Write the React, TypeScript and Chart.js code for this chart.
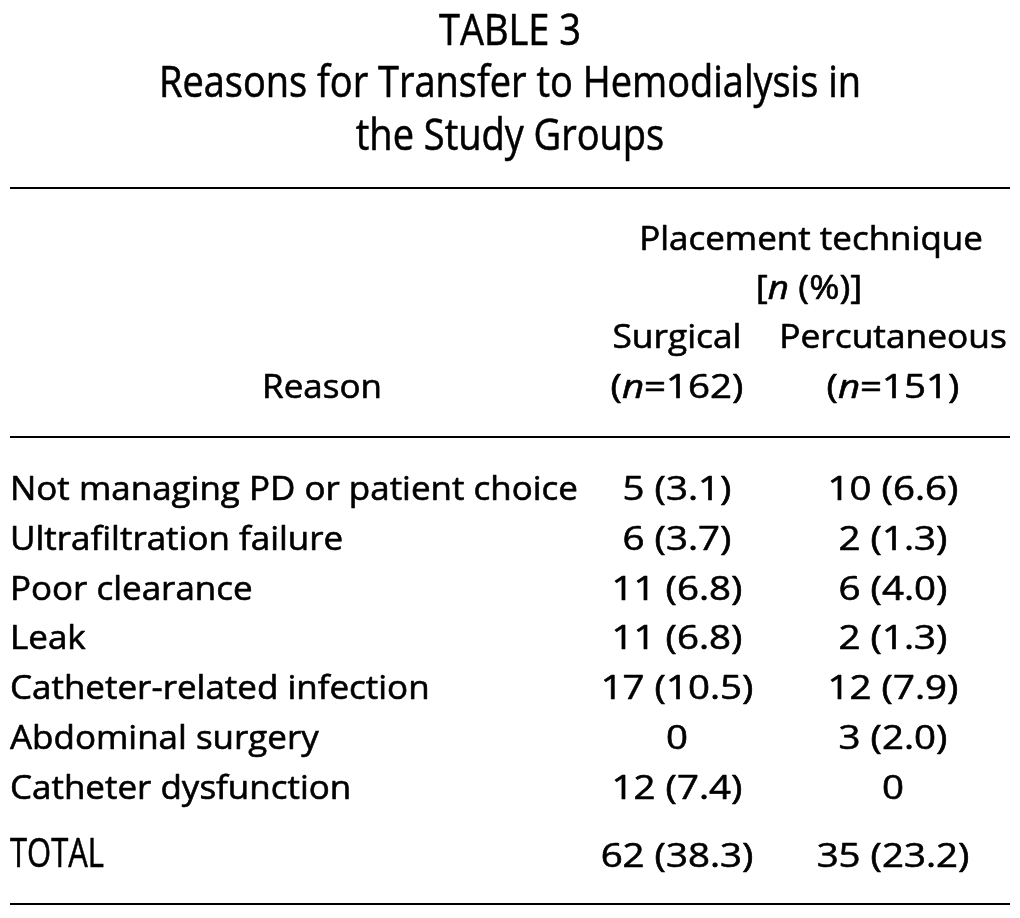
import React, { useEffect, useRef } from "react";
import { Chart, registerables } from "chart.js";

Chart.register(...registerables);

// ---------- data ----------
const TITLE_LINES = ["TABLE 3", "Reasons for Transfer to Hemodialysis in", "the Study Groups"];
const GROUP_HEADER = "Placement technique";
const GROUP_UNIT = "n (%)";
const COLUMNS = ["Surgical", "Percutaneous"];
const COLUMN_N = [162, 151];
const STUB_HEADER = "Reason";
const REASONS = [
  "Not managing PD or patient choice",
  "Ultrafiltration failure",
  "Poor clearance",
  "Leak",
  "Catheter-related infection",
  "Abdominal surgery",
  "Catheter dysfunction",
];
const SURGICAL_N = [5, 6, 11, 11, 17, 0, 12];
const SURGICAL_PCT = [3.1, 3.7, 6.8, 6.8, 10.5, 0, 7.4];
const PERCUTANEOUS_N = [10, 2, 6, 2, 12, 3, 0];
const PERCUTANEOUS_PCT = [6.6, 1.3, 4.0, 1.3, 7.9, 2.0, 0];
const TOTAL_LABEL = "TOTAL";
const TOTAL_N = [62, 35];
const TOTAL_PCT = [38.3, 23.2];

// ---------- helpers ----------
const fmt = (n: number, p: number) => (n === 0 ? "0" : `${n} (${p.toFixed(1)})`);

type Seg = { t: string; italic?: boolean };

const BODY_FAMILY = '"Open Sans", "Noto Sans", sans-serif';
const TITLE_FAMILY = '"Open Sans", "Noto Sans", sans-serif';
const WEIGHT = 400;
const EMBOLDEN = 0.6;

function fontStr(size: number, family: string, italic = false, weight = WEIGHT) {
  return `${italic ? "italic " : ""}${weight} ${size}px ${family}`;
}

function drawSegs(
  ctx: CanvasRenderingContext2D,
  segs: Seg[],
  x: number,
  y: number,
  align: "left" | "center",
  size: number,
  family: string,
  sx: number,
  weight = WEIGHT
) {
  const widths = segs.map((s) => {
    ctx.font = fontStr(size, family, !!s.italic, weight);
    return ctx.measureText(s.t).width * sx;
  });
  const total = widths.reduce((a, b) => a + b, 0);
  let cx = align === "center" ? x - total / 2 : x;
  segs.forEach((s, i) => {
    ctx.save();
    ctx.font = fontStr(size, family, !!s.italic, weight);
    ctx.textAlign = "left";
    ctx.textBaseline = "alphabetic";
    ctx.fillStyle = "#000";
    ctx.strokeStyle = "#000";
    ctx.lineJoin = "round";
    ctx.translate(cx, y);
    ctx.scale(sx, 1);
    ctx.lineWidth = EMBOLDEN;
    ctx.fillText(s.t, 0, 0);
    ctx.strokeText(s.t, 0, 0);
    ctx.restore();
    cx += widths[i];
  });
}

function scaleFor(ctx: CanvasRenderingContext2D, text: string, size: number, family: string, target: number, weight = WEIGHT) {
  ctx.font = fontStr(size, family, false, weight);
  return target / ctx.measureText(text).width;
}

const tablePlugin = {
  id: "tableText",
  afterDraw(chart: any) {
    const ctx: CanvasRenderingContext2D = chart.ctx;
    const xs = chart.scales.x;
    const ys = chart.scales.y;
    const W = chart.width;

    const BODY = 33;
    const TITLE = 44;
    const bodySx = scaleFor(ctx, REASONS[0], BODY, BODY_FAMILY, 568);
    const numSx = bodySx * 1.1;
    const titleSx = scaleFor(ctx, TITLE_LINES[1], TITLE, TITLE_FAMILY, 702);

    ctx.save();
    ctx.fillStyle = "#fff";
    ctx.fillRect(0, 0, W, chart.height);
    ctx.restore();

    // title
    const titleBase = [45, 97, 150];
    TITLE_LINES.forEach((t, i) => {
      drawSegs(ctx, [{ t }], 510, titleBase[i], "center", TITLE, TITLE_FAMILY, titleSx);
    });

    // rules
    ctx.save();
    ctx.strokeStyle = "#000";
    ctx.lineWidth = 2;
    [188, 437, 904].forEach((yy) => {
      ctx.beginPath();
      ctx.moveTo(10, yy);
      ctx.lineTo(1010, yy);
      ctx.stroke();
    });
    ctx.restore();

    const colX = [xs.getPixelForValue(677), xs.getPixelForValue(893)];

    // headers
    drawSegs(ctx, [{ t: GROUP_HEADER }], 811, 250, "center", BODY, BODY_FAMILY, bodySx);
    const [nPart, rest] = [GROUP_UNIT.slice(0, 1), GROUP_UNIT.slice(1)];
    drawSegs(ctx, [{ t: "[" }, { t: nPart, italic: true }, { t: rest + "]" }], 809, 299, "center", BODY, BODY_FAMILY, bodySx * 1.05);
    COLUMNS.forEach((c, i) => {
      drawSegs(ctx, [{ t: c }], colX[i], 348, "center", BODY, BODY_FAMILY, bodySx * 1.01);
      drawSegs(
        ctx,
        [{ t: "(" }, { t: "n", italic: true }, { t: `=${COLUMN_N[i]})` }],
        colX[i],
        398,
        "center",
        BODY,
        BODY_FAMILY,
        numSx
      );
    });
    drawSegs(ctx, [{ t: STUB_HEADER }], 322, 398, "center", BODY, BODY_FAMILY, bodySx);

    // body rows
    REASONS.forEach((r, i) => {
      const y = ys.getPixelForValue(i);
      drawSegs(ctx, [{ t: r }], 10, y, "left", BODY, BODY_FAMILY, bodySx);
      drawSegs(ctx, [{ t: fmt(SURGICAL_N[i], SURGICAL_PCT[i]) }], colX[0], y, "center", BODY, BODY_FAMILY, numSx);
      drawSegs(ctx, [{ t: fmt(PERCUTANEOUS_N[i], PERCUTANEOUS_PCT[i]) }], colX[1], y, "center", BODY, BODY_FAMILY, numSx);
    });

    // total row
    const lastY = ys.getPixelForValue(REASONS.length - 1);
    const ty = lastY + 68;
    const totSx = scaleFor(ctx, TOTAL_LABEL, 40, TITLE_FAMILY, 94);
    drawSegs(ctx, [{ t: TOTAL_LABEL }], 10, ty, "left", 40, TITLE_FAMILY, totSx);
    TOTAL_N.forEach((n, i) => {
      drawSegs(ctx, [{ t: fmt(n, TOTAL_PCT[i]) }], colX[i], ty, "center", BODY, BODY_FAMILY, numSx);
    });
  },
};

export default function App() {
  const ref = useRef<HTMLCanvasElement | null>(null);
  useEffect(() => {
    if (!ref.current) return;
    const rowStep = 49.83;
    const firstBase = 500;
    const top = firstBase - rowStep / 2;
    const bottom = 918 - (top + rowStep * REASONS.length);
    const chart = new Chart(ref.current, {
      type: "scatter",
      data: { labels: REASONS, datasets: [{ data: [], showLine: false }] },
      options: {
        animation: false,
        responsive: true,
        maintainAspectRatio: false,
        layout: { padding: { top, bottom, left: 0, right: 0 } },
        plugins: { legend: { display: false }, tooltip: { enabled: false }, title: { display: false } },
        scales: {
          x: { type: "linear", display: false, min: 0, max: 1020 },
          y: { type: "category", labels: REASONS, display: false, offset: true },
        },
      },
      plugins: [tablePlugin],
    });
    return () => chart.destroy();
  }, []);
  return (
    <div style={{ position: "fixed", left: 0, top: 0, width: 1020, height: 918, background: "#fff" }}>
      <canvas ref={ref} />
    </div>
  );
}
